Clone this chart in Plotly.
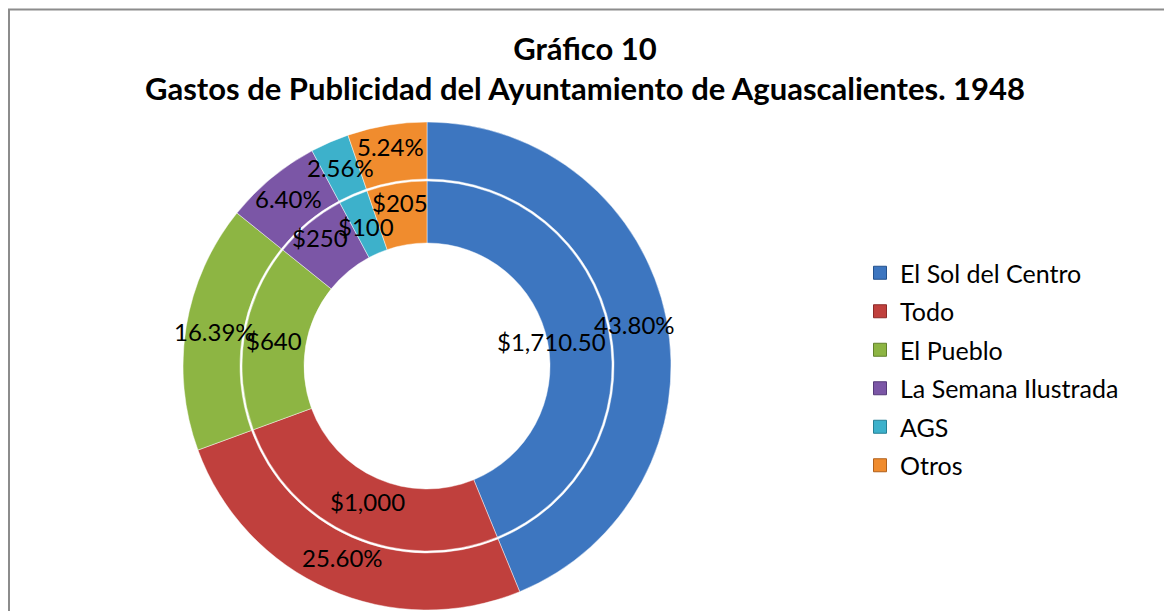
import math
import plotly.graph_objects as go

categories = ["El Sol del Centro", "Todo", "El Pueblo", "La Semana Ilustrada", "AGS", "Otros"]
amounts = [1710.50, 1000, 640, 250, 100, 205]
amount_labels = ["$1,710.50", "$1,000", "$640", "$250", "$100", "$205"]
percent_labels = ["43.80%", "25.60%", "16.39%", "6.40%", "2.56%", "5.24%"]

# styling / layout
colors = ["#3D76C0", "#C0403D", "#8DB543", "#7B56A6", "#3DB1CB", "#F08C2E"]
edge_colors = ["#25528C", "#8C2A28", "#62812C", "#553A78", "#267F94", "#B0611C"]
outer_label_radius = [212, 209, 215, 217, 217, 223]   # px from centre
inner_label_radius = [127, 148, 155, 167, 152, 166]   # px from centre

# the page body has an 8px margin, so the figure sits at (8, 8) in the window
OFF = 8
W, H = 1172 - OFF, 611 - OFF
cx, cy = 427 - OFF, 366 - OFF
R_out, R_in, R_hole = 244, 185, 123

def dom(r):
    return dict(x=[(cx - r) / W, (cx + r) / W],
                y=[(H - cy - r) / H, (H - cy + r) / H])

font_family = "Lato, Carlito, Calibri, sans-serif"

fig = go.Figure()
fig.add_trace(go.Pie(
    labels=categories, values=amounts, textinfo="none",
    sort=False, direction="clockwise", rotation=0,
    hole=(R_in + 2) / R_out, domain=dom(R_out),
    marker=dict(colors=colors, line=dict(color="rgba(255,255,255,0.45)", width=1)),
    showlegend=False, hoverinfo="label+percent",
))
fig.add_trace(go.Pie(
    labels=categories, values=amounts, textinfo="none",
    sort=False, direction="clockwise", rotation=0,
    hole=R_hole / R_in, domain=dom(R_in),
    marker=dict(colors=colors, line=dict(color="rgba(255,255,255,0.45)", width=1)),
    showlegend=False, hoverinfo="label+value",
))

# legend entries (one group each so the spacing can be matched)
for name, c, ec in zip(categories, colors, edge_colors):
    fig.add_trace(go.Scatter(
        x=[None], y=[None], mode="markers", name=name, legendgroup=name,
        marker=dict(symbol="square", size=13, color=c, line=dict(color=ec, width=1)),
        showlegend=True, hoverinfo="skip",
    ))

# data labels at the middle angle of each slice
total = sum(amounts)
cum = 0.0
for v, pl, al, ro, ri in zip(amounts, percent_labels, amount_labels,
                             outer_label_radius, inner_label_radius):
    theta = 2 * math.pi * (cum + v / 2) / total
    cum += v
    for r, txt in ((ro, pl), (ri, al)):
        px = cx + r * math.sin(theta)
        py = cy - r * math.cos(theta)
        fig.add_annotation(x=px / W, y=(H - py) / H, xref="paper", yref="paper",
                           text=txt, showarrow=False, xanchor="center", yanchor="middle",
                           font=dict(family=font_family, size=24, color="black"))

fig.add_shape(type="rect", xref="paper", yref="paper",
              x0=1 / W, x1=1.2, y0=-0.2, y1=(H - 1.5) / H,
              line=dict(color="#8C8C8C", width=2), fillcolor="rgba(0,0,0,0)", layer="below")

fig.update_layout(
    width=W, height=H,
    margin=dict(l=0, r=0, t=0, b=0),
    paper_bgcolor="white", plot_bgcolor="rgba(0,0,0,0)",
    xaxis=dict(visible=False), yaxis=dict(visible=False),
    title=dict(text="<b>Gráfico 10</b><br><b>Gastos de Publicidad del Ayuntamiento de Aguascalientes. 1948</b>",
               x=(585 - OFF) / W, xanchor="center", y=(H - (60 - OFF)) / H, yanchor="middle",
               font=dict(family=font_family, size=31, color="black")),
    legend=dict(x=(860 - OFF) / W, xanchor="left", y=(H - (250 - OFF)) / H, yanchor="top",
                font=dict(family=font_family, size=25, color="black"),
                itemwidth=30, traceorder="grouped", tracegroupgap=3),
)

fig.write_html("out.html")
